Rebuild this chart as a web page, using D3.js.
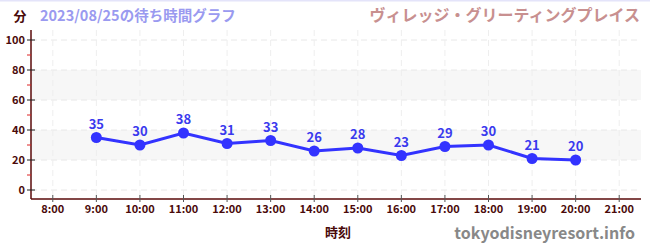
<!DOCTYPE html>
<html>
<head>
    <meta charset="utf-8">
    <title>待ち時間グラフ</title>
    <script src="https://d3js.org/d3.v7.min.js"></script>
    <style>
        body { margin: 0; background: #fff; }
        text { font-family: "Noto Sans CJK JP", "Noto Sans", sans-serif; }
    </style>
</head>
<body>
    <svg id="chart"></svg>

    <script>
        // Data values
        const hours = [9, 10, 11, 12, 13, 14, 15, 16, 17, 18, 19, 20];
        const waits = [35, 30, 38, 31, 33, 26, 28, 23, 29, 30, 21, 20];
        const hourTicks = [8, 9, 10, 11, 12, 13, 14, 15, 16, 17, 18, 19, 20, 21];
        const waitTicks = [0, 20, 40, 60, 80, 100];
        const minorTicks = [10, 30, 50, 70, 90];
        const bands = [[20, 40], [60, 80]];

        const width = 650;
        const height = 250;

        const x = d3.scaleLinear().domain([7.5, 21.5]).range([31, 641]);
        const y = d3.scaleLinear().domain([0, 100]).range([190, 40]);
        const plotTop = 30, plotBottom = 199;

        const chart = d3.select('#chart')
            .attr('width', width)
            .attr('height', height);

        // top border
        chart.append('rect')
            .attr('x', 0).attr('y', 0)
            .attr('width', width).attr('height', 1.5)
            .attr('fill', '#e4e4fa');

        // shaded bands
        chart.selectAll('.band')
            .data(bands)
            .enter()
            .append('rect')
            .attr('x', x(7.5))
            .attr('y', d => y(d[1]))
            .attr('width', x(21.5) - x(7.5))
            .attr('height', d => y(d[0]) - y(d[1]))
            .attr('fill', '#f7f7f7');

        // grid
        chart.selectAll('.hgrid')
            .data(waitTicks)
            .enter()
            .append('line')
            .attr('x1', x(7.5)).attr('x2', x(21.5))
            .attr('y1', d => y(d)).attr('y2', d => y(d))
            .attr('stroke', '#e8e8e8')
            .attr('stroke-dasharray', '6,4');

        chart.selectAll('.vgrid')
            .data(hourTicks)
            .enter()
            .append('line')
            .attr('x1', d => x(d)).attr('x2', d => x(d))
            .attr('y1', plotTop).attr('y2', plotBottom)
            .attr('stroke', '#eeeeee')
            .attr('stroke-dasharray', '6,4');

        // y axis
        const yAxis = chart.append('g').attr('transform', 'translate(31,0)');
        yAxis.append('line')
            .attr('y1', plotTop).attr('y2', plotBottom)
            .attr('stroke', '#5a0a0a').attr('stroke-width', 1.5);
        yAxis.selectAll('.minor')
            .data(minorTicks)
            .enter()
            .append('line')
            .attr('x1', -4).attr('x2', 0)
            .attr('y1', d => y(d)).attr('y2', d => y(d))
            .attr('stroke', '#dd2222');
        yAxis.selectAll('.major')
            .data(waitTicks)
            .enter()
            .append('line')
            .attr('x1', -4).attr('x2', 4)
            .attr('y1', d => y(d)).attr('y2', d => y(d))
            .attr('stroke', '#222');
        yAxis.selectAll('.ylabel')
            .data(waitTicks)
            .enter()
            .append('text')
            .attr('x', -6)
            .attr('y', d => y(d) + 4)
            .attr('text-anchor', 'end')
            .attr('font-size', 11)
            .attr('font-weight', 'bold')
            .attr('fill', '#4a0a0a')
            .text(d => d);

        // x axis
        const xAxis = chart.append('g');
        xAxis.append('line')
            .attr('x1', 31).attr('x2', 641)
            .attr('y1', plotBottom).attr('y2', plotBottom)
            .attr('stroke', '#5a0a0a').attr('stroke-width', 1.5);
        xAxis.selectAll('.xtick')
            .data(hourTicks)
            .enter()
            .append('line')
            .attr('x1', d => x(d)).attr('x2', d => x(d))
            .attr('y1', plotBottom - 4).attr('y2', plotBottom + 3)
            .attr('stroke', '#555');
        xAxis.selectAll('.xlabel')
            .data(hourTicks)
            .enter()
            .append('text')
            .attr('x', d => x(d))
            .attr('y', 213)
            .attr('text-anchor', 'middle')
            .attr('font-size', 11)
            .attr('font-weight', 'bold')
            .attr('fill', '#4a0a0a')
            .text(d => d + ':00');

        // line and points
        const line = d3.line()
            .x((d, i) => x(hours[i]))
            .y(d => y(d));

        chart.append('path')
            .datum(waits)
            .attr('d', line)
            .attr('fill', 'none')
            .attr('stroke', '#3333ff')
            .attr('stroke-width', 3);

        chart.selectAll('.dot')
            .data(waits)
            .enter()
            .append('circle')
            .attr('cx', (d, i) => x(hours[i]))
            .attr('cy', d => y(d))
            .attr('r', 5.5)
            .attr('fill', '#3333ff');

        chart.selectAll('.val')
            .data(waits)
            .enter()
            .append('text')
            .attr('x', (d, i) => x(hours[i]))
            .attr('y', d => y(d) - 9)
            .attr('text-anchor', 'middle')
            .attr('font-size', 13)
            .attr('font-weight', 'bold')
            .attr('fill', '#3a3aee')
            .text(d => d);

        // titles
        chart.append('text')
            .attr('x', 20).attr('y', 21)
            .attr('text-anchor', 'middle')
            .attr('font-size', 13).attr('font-weight', 'bold')
            .attr('fill', '#4a0a0a')
            .text('分');

        chart.append('text')
            .attr('x', 40).attr('y', 21)
            .attr('font-size', 14.5).attr('font-weight', 'bold')
            .attr('fill', '#9a9af0')
            .text('2023/08/25の待ち時間グラフ');

        chart.append('text')
            .attr('x', 640).attr('y', 21)
            .attr('text-anchor', 'end')
            .attr('font-size', 16).attr('font-weight', 'bold')
            .attr('fill', '#c89090')
            .text('ヴィレッジ・グリーティングプレイス');

        chart.append('text')
            .attr('x', 338).attr('y', 237)
            .attr('text-anchor', 'middle')
            .attr('font-size', 13).attr('font-weight', 'bold')
            .attr('fill', '#4a0a0a')
            .text('時刻');

        chart.append('text')
            .attr('x', 635).attr('y', 239)
            .attr('text-anchor', 'end')
            .attr('font-size', 16).attr('font-weight', 'bold')
            .attr('fill', '#888')
            .text('tokyodisneyresort.info');
    </script>
</body>
</html>
